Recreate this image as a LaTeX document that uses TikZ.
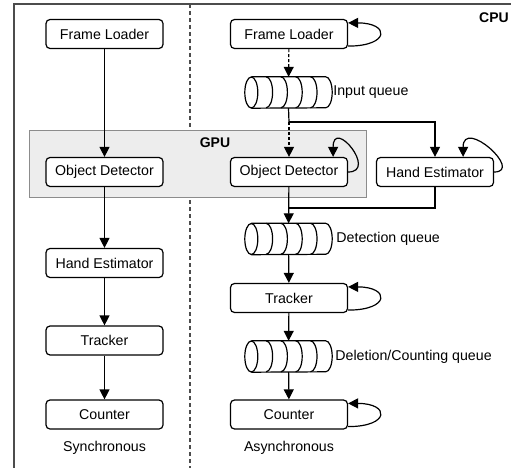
\documentclass[tikz,border=0pt]{standalone}
\usepackage{fontspec}
\setsansfont{Liberation Sans}
\usetikzlibrary{arrows.meta}

\tikzset{
    stage/.style={draw, line width=1.2pt, rounded corners=4pt, fill=white,
        minimum width=117pt, minimum height=29pt, inner sep=0pt,
        font=\sffamily\fontsize{14.2}{16}\selectfont},
    buffer/.style={minimum width=87pt, minimum height=31pt, inner sep=0pt},
    caption/.style={inner sep=1pt, font=\sffamily\fontsize{14.2}{16}\selectfont},
    device/.style={inner sep=0pt, font=\sffamily\bfseries\fontsize{14}{16}\selectfont},
    flow/.style={-{Triangle[width=10pt,length=10pt]}, line width=1.2pt},
    async/.style={flow, dash pattern=on 3pt off 2pt},
}

% queue drawn as a cylinder with slots
\newcommand{\drawqueue}[1]{%
    \draw[line width=1.2pt] ([xshift=6.5pt]#1.north west) -- ([xshift=-6.5pt]#1.north east)
        arc[start angle=90, end angle=-90, x radius=6.5pt, y radius=15.5pt]
        -- ([xshift=6.5pt]#1.south west);
    \draw[line width=1.2pt] ([xshift=6.5pt]#1.west) ellipse [x radius=6.5pt, y radius=15.5pt];
    \foreach \k in {1,...,4} {
        \draw[line width=1.2pt] ([xshift=6.5pt+\k*14.8pt]#1.north west)
            arc[start angle=90, end angle=-90, x radius=6.5pt, y radius=15.5pt];
    }
}

\begin{document}
\begin{tikzpicture}[x=1pt, y=-1pt]
    \useasboundingbox (0,0) rectangle (511,468);

    % Outer frame and the split between the two pipelines
    \draw[line width=1.6pt, black!70] (14,468) -- (14,4) -- (511,4);
    \draw[line width=1.3pt, black!70, dash pattern=on 4pt off 3pt] (190,4) -- (190,468);

    % GPU region
    \draw[line width=1pt, black!45, fill=black!7] (29,131) rectangle (366,197);
    \node[device] (gpu) at (215,143) {GPU};
    \node[device] (cpu) at (494,18) {CPU};

    % Synchronous pipeline
    \node[stage] (flA) at (104.5,34)    {Frame Loader};
    \node[stage] (odA) at (104.5,172)   {Object Detector};
    \node[stage] (heA) at (104.5,263)   {Hand Estimator};
    \node[stage] (trA) at (104.5,340.5) {Tracker};
    \node[stage] (coA) at (104.5,414.5) {Counter};
    \node[caption] (sync) at (104.5,448) {Synchronous};

    \draw[flow] (flA) -- (odA);
    \draw[flow] (odA) -- (heA);
    \draw[flow] (heA) -- (trA);
    \draw[flow] (trA) -- (coA);

    % Asynchronous pipeline
    \node[stage] (flB) at (289,34)     {Frame Loader};
    \node[buffer] (inq) at (288.5,92.5) {};
    \node[stage] (odB) at (289,172)    {Object Detector};
    \node[stage] (heB) at (435,172)    {Hand Estimator};
    \node[buffer] (detq) at (288.5,239) {};
    \node[stage] (trB) at (289,298)    {Tracker};
    \node[buffer] (delq) at (288.5,356.5) {};
    \node[stage] (coB) at (289,414.5)  {Counter};
    \node[caption] (async) at (289,448) {Asynchronous};

    \drawqueue{inq}
    \drawqueue{detq}
    \drawqueue{delq}
    \node[caption, anchor=west] (inqlbl) at (inq.east) {Input queue};
    \node[caption, anchor=west] (detqlbl) at ([xshift=3pt]detq.east) {Detection queue};
    \node[caption, anchor=west] (delqlbl) at ([xshift=2pt]delq.east) {Deletion/Counting queue};

    \coordinate (split) at (289,122);
    \coordinate (merge) at (289,208);

    \draw[async] (flB) -- (inq);
    \draw[line width=1.2pt] (inq.south) -- (split);
    \draw[async] (split) -- (odB);
    \draw[flow] (split) -| (heB);
    \draw[flow] (odB) -- (detq);
    \draw[line width=1.2pt] (heB.south) |- (merge);
    \draw[flow] (detq) -- (trB);
    \draw[flow] (trB) -- (delq);
    \draw[flow] (delq) -- (coB);

    % Self loops
    \foreach \n in {flB,trB,coB} {
        \draw[flow] ([yshift=3pt]\n.south east) to[out=0, in=0, distance=42pt] ([yshift=-4pt]\n.north east);
    }
    \draw[flow] (odB.east) to[out=0, in=90, out distance=30pt, in distance=40pt] ([xshift=-15pt]odB.north east);
    \draw[flow] (heB.east) to[out=0, in=90, out distance=30pt, in distance=40pt] ([xshift=-31pt]heB.north east);

\end{tikzpicture}
\end{document}
